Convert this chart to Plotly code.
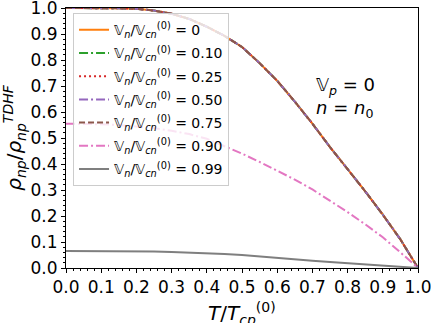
import plotly.graph_objects as go

T = [0.0, 0.05, 0.1, 0.15, 0.2, 0.25, 0.3, 0.35, 0.4, 0.45, 0.5,
     0.55, 0.6, 0.65, 0.7, 0.75, 0.8, 0.85, 0.9, 0.95, 1.0]

rho_000 = [1.0, 1.0, 1.0, 0.999, 0.997, 0.99, 0.978, 0.958, 0.928, 0.893, 0.85,
           0.788, 0.72, 0.64, 0.555, 0.465, 0.38, 0.295, 0.205, 0.11, 0.0]
rho_010 = list(rho_000)
rho_025 = list(rho_000)
rho_050 = list(rho_000)
rho_075 = list(rho_000)
rho_090 = [0.555, 0.555, 0.553, 0.55, 0.545, 0.538, 0.528, 0.515, 0.497, 0.47, 0.44,
           0.408, 0.375, 0.34, 0.302, 0.26, 0.215, 0.168, 0.118, 0.06, 0.0]
rho_099 = [0.065, 0.065, 0.065, 0.065, 0.064, 0.063, 0.062, 0.06, 0.058, 0.054, 0.05,
           0.044, 0.038, 0.033, 0.028, 0.023, 0.018, 0.014, 0.01, 0.005, 0.0]

labels = ["0", "0.10", "0.25", "0.50", "0.75", "0.90", "0.99"]
tick_vals = [0.0, 0.1, 0.2, 0.3, 0.4, 0.5, 0.6, 0.7, 0.8, 0.9, 1.0]
tick_text = ["0.0", "0.1", "0.2", "0.3", "0.4", "0.5", "0.6", "0.7", "0.8", "0.9", "1.0"]

series = [rho_000, rho_010, rho_025, rho_050, rho_075, rho_090, rho_099]
colors = ["#ff7f0e", "#2ca02c", "#d62728", "#9467bd", "#8c564b", "#e377c2", "#7f7f7f"]
dashes = ["solid", "9px,3px,2px,3px", "2px,3px", "9px,3px,2px,3px", "6px,3px",
          "9px,3px,2px,3px", "solid"]

fig = go.Figure()
for i, (lab, ys, c, d) in enumerate(zip(labels, series, colors, dashes)):
    fig.add_trace(go.Scatter(
        x=T, y=ys, mode="lines",
        line=dict(color=c, width=2, dash=d),
        legendgroup="g%d" % i,
        name="<i>𝕍<sub>n</sub></i>/<i>𝕍<sub>cn</sub></i><sup>(0)</sup> = " + lab,
    ))

axis_common = dict(
    range=[0, 1], tickmode="array", tickvals=tick_vals, ticktext=tick_text,
    showgrid=False, zeroline=False,
    showline=True, linecolor="black", linewidth=1, mirror=True,
    ticks="outside", ticklen=4, tickcolor="black",
    ticklabeloverflow="allow",
    minor=dict(ticks="outside", ticklen=2, tickmode="linear", tick0=0, dtick=0.02,
               tickcolor="black"),
    tickfont=dict(family="DejaVu Sans", size=17, color="black"),
)

fig.update_xaxes(**axis_common)
fig.update_yaxes(**axis_common,
                 title=dict(text="<i>ρ<sub>np</sub></i>/<i>ρ<sub>np</sub><sup>TDHF</sup></i>",
                            font=dict(family="DejaVu Sans", size=20, color="black"),
                            standoff=4))

# x-axis title placed as an annotation for exact vertical placement
fig.add_annotation(x=0.5, y=-0.11, xref="paper", yref="paper",
                   text="<i>T</i>/<i>T<sub>cp</sub></i><sup>(0)</sup>",
                   showarrow=False, xanchor="center", yanchor="top",
                   font=dict(family="DejaVu Sans", size=20, color="black"))

fig.add_annotation(x=0.705, y=0.655, xref="paper", yref="paper",
                   text="<i>𝕍<sub>p</sub></i> = 0<br><i>n</i> = <i>n</i><sub>0</sub>",
                   showarrow=False, align="left", xanchor="left", yanchor="middle",
                   font=dict(family="DejaVu Sans", size=18, color="black"))

fig.update_layout(
    width=431, height=323,
    margin=dict(l=66, r=13, t=8, b=55, autoexpand=False),
    plot_bgcolor="white", paper_bgcolor="white",
    legend=dict(x=0.02, y=0.98, xanchor="left", yanchor="top",
                bgcolor="rgba(255,255,255,0.8)", bordercolor="#cccccc", borderwidth=1,
                font=dict(family="DejaVu Sans", size=14, color="black"),
                tracegroupgap=2, itemwidth=30),
    showlegend=True,
)

fig.write_html("out.html",
               config={"displayModeBar": False},
               post_script="document.body.style.margin='0';document.body.style.padding='0';")
